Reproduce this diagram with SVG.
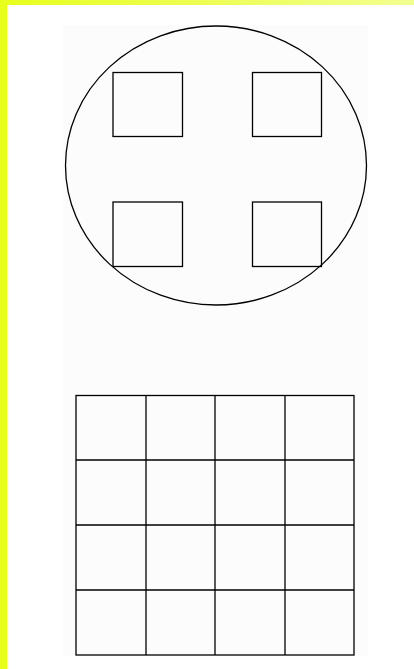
<svg xmlns="http://www.w3.org/2000/svg" width="414" height="669" viewBox="0 0 414 669">
<defs>
<linearGradient id="topbar" x1="0" y1="0" x2="1" y2="0">
<stop offset="0" stop-color="#e8ff1c"/>
<stop offset="1" stop-color="#f2ff90"/>
</linearGradient>
</defs>
<style>
.shape{fill:none;stroke:#000;stroke-width:1.3}
.line{stroke:#000;stroke-width:1.3}
</style>
<rect x="0" y="0" width="414" height="669" fill="#ffffff"/>
<rect x="63" y="25" width="305" height="631" fill="#fcfcfc"/>
<rect x="0" y="0" width="414" height="5" fill="url(#topbar)"/>
<rect x="0" y="0" width="7" height="669" fill="#e8ff1c"/>
<g id="circle"><ellipse class="shape" cx="216" cy="165.5" rx="150.5" ry="139.5"/></g>
<g id="square-tl"><rect class="shape" x="113" y="72.5" width="69.5" height="64"/></g>
<g id="square-tr"><rect class="shape" x="252.5" y="72.5" width="69" height="64"/></g>
<g id="square-bl"><rect class="shape" x="113" y="202" width="69.5" height="64.5"/></g>
<g id="square-br"><rect class="shape" x="252.5" y="202" width="69" height="64.5"/></g>
<g id="grid">
<rect class="shape" x="76" y="395.5" width="278" height="259.5"/>
<line class="line" x1="146" y1="395.5" x2="146" y2="655"/>
<line class="line" x1="215" y1="395.5" x2="215" y2="655"/>
<line class="line" x1="285" y1="395.5" x2="285" y2="655"/>
<line class="line" x1="76" y1="460" x2="354" y2="460"/>
<line class="line" x1="76" y1="525" x2="354" y2="525"/>
<line class="line" x1="76" y1="590" x2="354" y2="590"/>
</g>
</svg>
